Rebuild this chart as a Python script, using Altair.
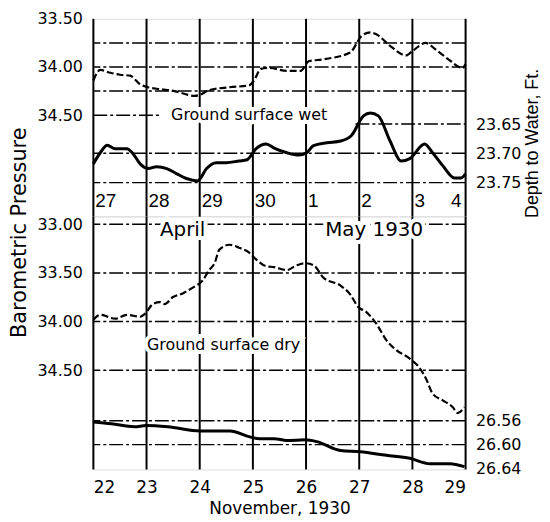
import altair as alt
import pandas as pd

# ---------------- data ----------------
# Upper panel: 27 April - 4 May 1930, x = days after 27 April 00h
wet_baro_day = [0.00, 0.13, 0.32, 0.50, 0.69, 0.88, 1.03, 1.25, 1.53, 1.72, 1.90, 2.00, 2.18, 2.56,
                2.93, 3.02, 3.15, 3.30, 3.64, 3.90, 4.05, 4.33, 4.83, 5.04, 5.21, 5.32, 5.58, 5.88,
                6.01, 6.25, 6.44, 6.70, 6.94, 7.00]
wet_baro = [34.14, 34.03, 34.06, 34.08, 34.09, 34.18, 34.21, 34.23, 34.25, 34.28, 34.30, 34.29, 34.24, 34.21,
            34.19, 34.14, 34.02, 34.01, 34.04, 34.04, 33.94, 33.92, 33.85, 33.68, 33.64, 33.66, 33.78, 33.88,
            33.83, 33.75, 33.82, 33.93, 34.01, 33.97]

wet_depth_day = [0.00, 0.13, 0.26, 0.41, 0.63, 0.75, 0.88, 1.03, 1.19, 1.38, 1.57, 1.75, 1.96, 2.13,
                 2.31, 2.50, 2.74, 2.89, 3.06, 3.25, 3.40, 3.64, 3.86, 4.01, 4.14, 4.39, 4.65, 4.85,
                 5.08, 5.21, 5.36, 5.58, 5.79, 5.95, 6.23, 6.38, 6.57, 6.79, 6.91, 7.00]
wet_depth = [23.718, 23.699, 23.686, 23.692, 23.692, 23.701, 23.718, 23.726, 23.723, 23.726, 23.735, 23.743,
             23.747, 23.726, 23.716, 23.716, 23.713, 23.711, 23.692, 23.684, 23.691, 23.699, 23.703, 23.699,
             23.687, 23.682, 23.679, 23.670, 23.636, 23.631, 23.636, 23.679, 23.713, 23.709, 23.684, 23.699,
             23.721, 23.742, 23.742, 23.735]

# Lower panel: 22 - 29 November 1930, x = days after 22 November 00h
dry_baro_day = [0.00, 0.13, 0.41, 0.63, 0.88, 0.97, 1.12, 1.25, 1.34, 1.49, 1.68, 1.87, 2.05, 2.18, 2.28,
                2.37, 2.56, 2.74, 2.93, 3.06, 3.25, 3.40, 3.64, 3.83, 3.99, 4.14, 4.33, 4.65, 4.83, 4.98,
                5.13, 5.32, 5.51, 5.69, 5.95, 6.14, 6.25, 6.38, 6.57, 6.76, 6.85, 6.98]
dry_baro = [33.98, 33.93, 33.97, 33.93, 33.95, 33.92, 33.82, 33.80, 33.82, 33.75, 33.71, 33.65, 33.58, 33.47,
            33.40, 33.26, 33.21, 33.24, 33.29, 33.36, 33.43, 33.44, 33.47, 33.42, 33.40, 33.42, 33.55, 33.63,
            33.72, 33.85, 33.90, 34.02, 34.19, 34.29, 34.38, 34.48, 34.58, 34.74, 34.81, 34.88, 34.94, 34.88]

dry_depth_day = [0.00, 0.34, 0.77, 0.99, 1.40, 2.01, 2.57, 2.94, 3.12, 3.40, 3.64, 3.99, 4.20, 4.65,
                 5.02, 5.51, 5.95, 6.33, 6.70, 6.98]
dry_depth = [26.562, 26.565, 26.570, 26.568, 26.570, 26.577, 26.577, 26.587, 26.590, 26.590, 26.593,
             26.592, 26.595, 26.610, 26.612, 26.618, 26.623, 26.632, 26.632, 26.637]

grid_days = [0, 1, 2, 3, 4, 5, 6, 7]
top_day_labels = ["27", "28", "29", "30", "1", "2", "3", "4"]
nov_first_day = 22

top_baro_ticks = [33.50, 34.00, 34.50]
top_depth_ticks = [23.65, 23.70, 23.75]
bot_baro_ticks = [33.00, 33.50, 34.00, 34.50]
bot_depth_ticks = [26.56, 26.60, 26.64]

top_baro_lines = [33.75, 34.00, 34.25]
top_depth_lines = [23.70, 23.75]
bot_baro_lines = [33.00, 33.50, 34.00, 34.50]
bot_depth_lines = [26.56, 26.60]

# annotation anchors (data units)
wet_label = {"d": 2.93, "v": 34.50, "t": "Ground surface wet"}
dry_label = {"d": 2.45, "v": 34.24, "t": "Ground surface dry"}
month_labels = {"d": [1.68, 5.28], "v": [33.06, 33.06], "t": ["April", "May 1930"]}
day_label_level = 23.782

# ---------------- chart ----------------
FONT = "DejaVu Sans"
TICK_FS = 16
W, H1, H2 = 375, 199, 255

xs = alt.Scale(domain=[0, 7], nice=False, zero=False)
top_baro_s = alt.Scale(domain=[33.5, 35.55], reverse=True, nice=False, zero=False)
top_depth_s = alt.Scale(domain=[23.4703, 23.8076], reverse=True, nice=False, zero=False)
bot_baro_s = alt.Scale(domain=[32.918, 35.52], reverse=True, nice=False, zero=False)
bot_depth_s = alt.Scale(domain=[26.2167, 26.6417], reverse=True, nice=False, zero=False)

bottom_x_axis = alt.Axis(values=grid_days, labelExpr=f"datum.value + {nov_first_day}",
                         labelPadding=10, labelFontSize=17, title="November, 1930",
                         titleFontSize=17, titleFontWeight="normal", titlePadding=5,
                         titleFont=FONT, labelFont=FONT, ticks=False, domain=False, grid=False,
                         labelColor="black", titleColor="black")


def X(field, top=True):
    return alt.X(field, type="quantitative", scale=xs, axis=None if top else bottom_x_axis)


def yaxis(orient, values, pad, **kw):
    return alt.Axis(orient=orient, values=values, format=".2f", labelPadding=pad,
                    labelFont=FONT, labelFontSize=TICK_FS, labelColor="black",
                    ticks=False, domain=False, grid=False, **kw)


def hrules(vals, scale, top, dash=(14, 3, 3, 3)):
    return alt.Chart(pd.DataFrame({"v": vals})).mark_rule(
        color="black", strokeWidth=1.5, strokeDash=list(dash)
    ).encode(y=alt.Y("v:Q", scale=scale, axis=None))


def vrules(top):
    return alt.Chart(pd.DataFrame({"d": grid_days})).mark_rule(
        color="black", strokeWidth=2
    ).encode(x=X("d", top))


def partial_rule(v, d0, d1, scale, top):
    return alt.Chart(pd.DataFrame({"v": [v], "d0": [d0], "d1": [d1]})).mark_rule(
        color="black", strokeWidth=1.5, strokeDash=[14, 3, 3, 3]
    ).encode(y=alt.Y("v:Q", scale=scale, axis=None), x=X("d0", top), x2="d1")


def label(df, scale, top, size, font=FONT, halo=True, align="center", dx=0):
    base = alt.Chart(pd.DataFrame(df))
    enc = dict(x=X("d", top), y=alt.Y("v:Q", scale=scale, axis=None), text="t:N")
    layers = []
    if halo:
        layers.append(base.mark_text(font=font, fontSize=size, align=align, baseline="middle",
                                     color="white", stroke="white", strokeWidth=8, dx=dx).encode(**enc))
    layers.append(base.mark_text(font=font, fontSize=size, align=align, baseline="middle",
                                 color="black", dx=dx).encode(**enc))
    return layers


# ---- upper panel ----
wet_baro_line = alt.Chart(pd.DataFrame({"d": wet_baro_day, "v": wet_baro})).mark_line(
    color="black", strokeWidth=2.2, strokeDash=[7, 3], interpolate="monotone"
).encode(
    x=X("d"),
    y=alt.Y("v:Q", scale=top_baro_s,
            axis=yaxis("left", top_baro_ticks, 11,
                       title="Barometric Pressure", titleFontSize=21, titleFontWeight="normal",
                       titleAngle=270, titleBaseline="alphabetic", titleAlign="center",
                       titleX=-68, titleY=215, titleFont=FONT, titleColor="black")),
)
wet_depth_line = alt.Chart(pd.DataFrame({"d": wet_depth_day, "v": wet_depth})).mark_line(
    color="black", strokeWidth=3, interpolate="monotone"
).encode(
    x=X("d"),
    y=alt.Y("v:Q", scale=top_depth_s,
            axis=yaxis("right", top_depth_ticks, 10,
                       title="Depth to Water, Ft.", titleFontSize=18, titleFontWeight="normal",
                       titleAngle=270, titleBaseline="alphabetic", titleAlign="center",
                       titleX=72, titleY=125, titleFont="Liberation Sans", titleColor="black")),
)

day_df = {"d": grid_days[:-1], "v": [day_label_level] * 7, "t": top_day_labels[:-1]}
last_df = {"d": grid_days[-1:], "v": [day_label_level], "t": top_day_labels[-1:]}

top_layers = [
    vrules(True),
    hrules(top_baro_lines, top_baro_s, True),
    hrules(top_depth_lines, top_depth_s, True),
    partial_rule(34.50, 0, 1.25, top_baro_s, True),
    partial_rule(23.65, 4.93, 7, top_depth_s, True),
    *label({"d": [wet_label["d"]], "v": [wet_label["v"]], "t": [wet_label["t"]]}, top_baro_s, True, 16),
    *label(day_df, top_depth_s, True, 19, font="Liberation Sans", halo=False, align="left", dx=2),
    *label(last_df, top_depth_s, True, 19, font="Liberation Sans", halo=False, align="right", dx=-4),
    wet_baro_line,
    wet_depth_line,
]
top = alt.layer(*top_layers).resolve_scale(y="independent").properties(width=W, height=H1)

# ---- lower panel ----
dry_baro_line = alt.Chart(pd.DataFrame({"d": dry_baro_day, "v": dry_baro})).mark_line(
    color="black", strokeWidth=2.2, strokeDash=[7, 3], interpolate="monotone"
).encode(
    x=X("d", False),
    y=alt.Y("v:Q", scale=bot_baro_s, axis=yaxis("left", bot_baro_ticks, 11, title=None)),
)
dry_depth_line = alt.Chart(pd.DataFrame({"d": dry_depth_day, "v": dry_depth})).mark_line(
    color="black", strokeWidth=3, interpolate="monotone"
).encode(
    x=X("d", False),
    y=alt.Y("v:Q", scale=bot_depth_s, axis=yaxis("right", bot_depth_ticks, 10, title=None)),
)

bot_layers = [
    vrules(False),
    hrules(bot_baro_lines, bot_baro_s, False),
    hrules(bot_depth_lines, bot_depth_s, False),
    *label(month_labels, bot_baro_s, False, 20),
    *label({"d": [dry_label["d"]], "v": [dry_label["v"]], "t": [dry_label["t"]]}, bot_baro_s, False, 16),
    dry_baro_line,
    dry_depth_line,
]
bottom = alt.layer(*bot_layers).resolve_scale(y="independent").properties(width=W, height=H2)

chart = alt.vconcat(top, bottom, spacing=0, bounds="flush").properties(
    padding={"left": 0, "top": 0, "right": 0, "bottom": 0}
).configure_view(
    stroke="black", strokeWidth=2
).configure(background="white")

chart.save("out.html", embed_options={"renderer": "svg", "actions": False})
